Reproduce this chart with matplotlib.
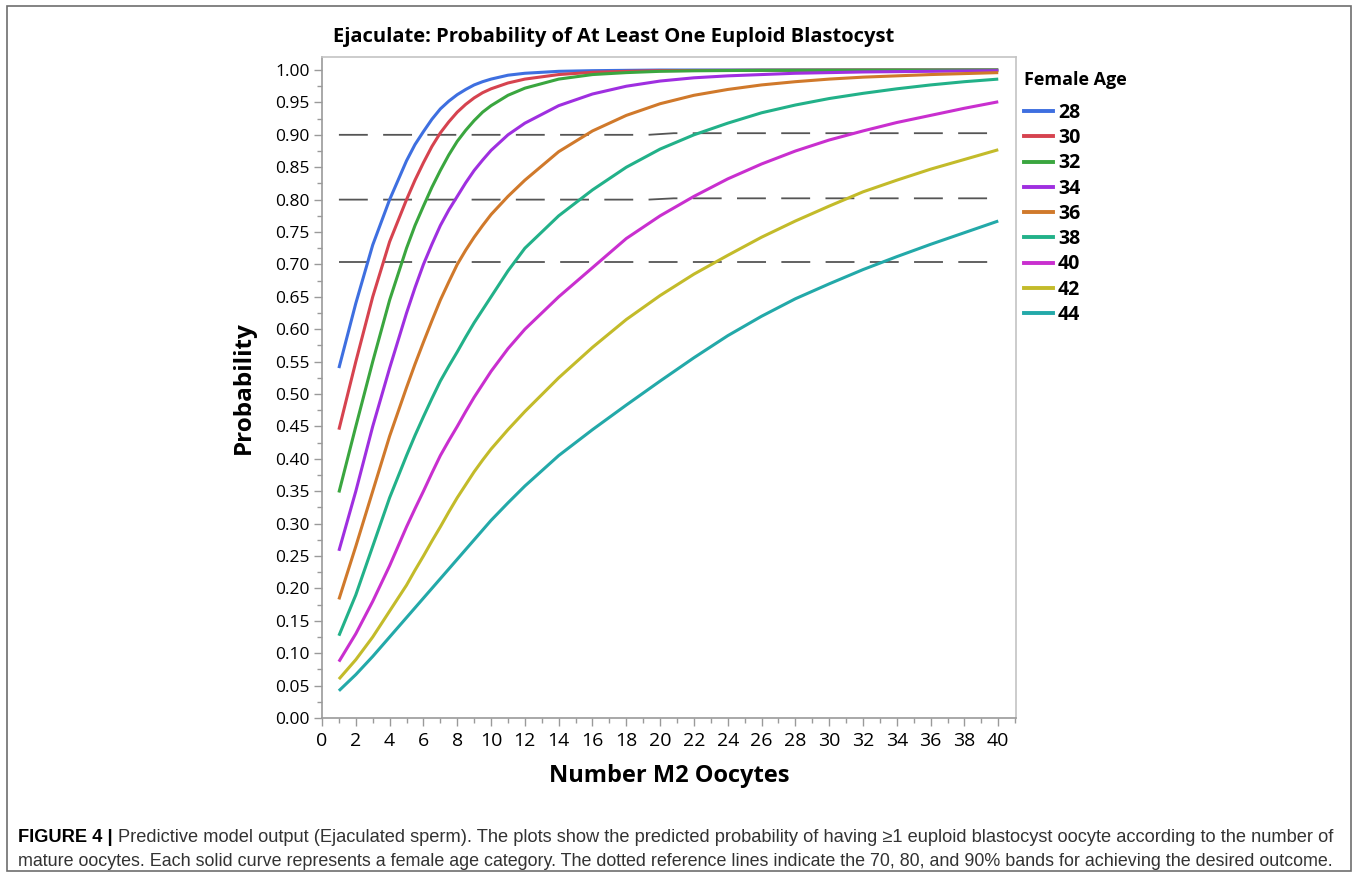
import matplotlib
matplotlib.use("Agg")
import matplotlib.pyplot as plt
from matplotlib.lines import Line2D
from matplotlib.patches import Rectangle
from matplotlib.ticker import MultipleLocator, FormatStrFormatter
from matplotlib import font_manager

# values
oocytes = [1, 2, 3, 4, 5, 5.5, 6, 6.5, 7, 7.5, 8, 8.5, 9, 9.5, 10, 11, 12, 14, 16, 18, 20,
           22, 24, 26, 28, 30, 32, 34, 36, 38, 40]

age_28 = [.540, .640, .730, .800, .860, .885, .905, .924, .940, .952, .962, .970, .977, .982, .986,
          .992, .995, .998, .999, .9995, 1.0,
          1.0, 1.0, 1.0, 1.0, 1.0, 1.0, 1.0, 1.0, 1.0, 1.0]
age_30 = [.445, .550, .650, .735, .800, .830, .857, .882, .903, .920, .935, .947, .957, .965, .971,
          .980, .986, .993, .9965, .998, .999,
          .9993, .9995, .9997, .9998, .9999, 1.0, 1.0, 1.0, 1.0, 1.0]
age_32 = [.348, .450, .550, .645, .725, .760, .790, .819, .845, .869, .890, .907, .922, .935, .945,
          .961, .972, .986, .993, .996, .998,
          .9988, .9992, .9995, .9996, .9997, .9998, .9999, .9999, 1.0, 1.0]
age_34 = [.258, .350, .450, .540, .625, .664, .700, .731, .760, .784, .805, .826, .845, .861, .876,
          .900, .918, .945, .963, .975, .983,
          .988, .991, .993, .995, .996, .997, .9975, .998, .9985, .999]
age_36 = [.183, .265, .350, .435, .510, .546, .580, .613, .645, .673, .700, .722, .742, .760, .777,
          .805, .830, .874, .906, .930, .948,
          .961, .970, .977, .982, .986, .989, .991, .993, .9945, .996]
age_38 = [.127, .190, .265, .340, .405, .436, .465, .493, .520, .543, .565, .588, .610, .630, .650,
          .690, .725, .775, .815, .850, .878,
          .900, .918, .934, .946, .956, .964, .971, .977, .982, .986]
age_40 = [.087, .130, .180, .235, .295, .323, .350, .378, .405, .428, .450, .473, .495, .515, .535,
          .570, .600, .650, .695, .740, .775,
          .805, .832, .855, .875, .892, .906, .919, .930, .941, .951]
age_42 = [.060, .090, .125, .165, .205, .228, .250, .273, .295, .318, .340, .360, .380, .398, .415,
          .445, .473, .525, .572, .615, .652,
          .685, .714, .742, .767, .790, .812, .830, .847, .862, .877]
age_44 = [.042, .067, .095, .125, .155, .170, .185, .200, .215, .230, .245, .260, .275, .290, .305,
          .332, .358, .405, .445, .483, .520,
          .556, .590, .620, .647, .670, .692, .712, .731, .749, .767]

ages = ["28", "30", "32", "34", "36", "38", "40", "42", "44"]
series = [age_28, age_30, age_32, age_34, age_36, age_38, age_40, age_42, age_44]
colors = ["#3e6fe0", "#d6434f", "#3aa63f", "#9f2fe0", "#d0792b",
          "#22b189", "#c92fcf", "#c3bb2a", "#23a9a9"]

# dotted reference bands (70, 80, 90 %)
ref_x = [1, 19.3, 20.8, 40]
ref_90 = [.900, .900, .9025, .9025]
ref_80 = [.800, .800, .802, .802]
ref_70 = [.704, .704, .704, .704]

W, H = 1358, 877
names = {f.name for f in font_manager.fontManager.ttflist}
chart_font = "Open Sans" if "Open Sans" in names else "DejaVu Sans"
cap_font = "Liberation Sans Narrow" if "Liberation Sans Narrow" in names else "Liberation Sans"
plt.rcParams["font.family"] = [chart_font, "DejaVu Sans"]

fig = plt.figure(figsize=(W / 100, H / 100), dpi=100)
ax = fig.add_axes([322 / W, 1 - 718 / H, (1016 - 322) / W, (718 - 57) / H])

for yy in (ref_90, ref_80, ref_70):
    ax.plot(ref_x, yy, color="#555555", lw=1.3, dashes=(16, 8.5), zorder=1)

handles = []
for ser, col in zip(series, colors):
    ax.plot(oocytes, ser, color=col, lw=2.2, solid_capstyle="butt",
            solid_joinstyle="round", zorder=2)
    handles.append(Line2D([], [], color=col, lw=2.8))

ax.set_xlim(0, 41.05)
ax.set_ylim(0, 1.0201)
ax.xaxis.set_major_locator(MultipleLocator(2))
ax.xaxis.set_minor_locator(MultipleLocator(1))
ax.yaxis.set_major_locator(MultipleLocator(0.05))
ax.yaxis.set_minor_locator(MultipleLocator(0.025))
ax.yaxis.set_major_formatter(FormatStrFormatter("%.2f"))
ax.tick_params(which="major", direction="out", length=6, width=1, color="#9a9a9a", labelcolor="black")
ax.tick_params(which="minor", direction="out", length=3.5, width=1, color="#9a9a9a")
ax.tick_params(axis="x", labelsize=14, pad=4)
ax.tick_params(axis="y", labelsize=12.5, pad=3)
for s in ("left", "bottom"):
    ax.spines[s].set_color("#9a9a9a")
for s in ("top", "right"):
    ax.spines[s].set_color("#c4c4c4")
for s in ax.spines.values():
    s.set_linewidth(1.2)

ax.set_xlabel("Number M2 Oocytes", fontsize=17, fontweight="bold", labelpad=10)
ax.set_ylabel("Probability", fontsize=17.5, fontweight="bold", labelpad=14)

fig.text(333 / W, 1 - 37 / H, "Ejaculate: Probability of At Least One Euploid Blastocyst",
         fontsize=14.5, fontweight="bold", ha="left", va="center")

leg = ax.legend(handles, ages, title="Female Age", loc="upper left",
                bbox_to_anchor=(1024 / W, 1 - 71 / H), bbox_transform=fig.transFigure,
                frameon=False, prop={"weight": "bold", "size": 14},
                title_fontproperties={"weight": "bold", "size": 13},
                handlelength=1.5, handletextpad=0.25, labelspacing=0.27,
                borderpad=0, borderaxespad=0)
leg._legend_box.align = "left"
leg._legend_box.sep = 10  # extra room between the title and the first entry

# outer frame
fig.add_artist(Rectangle((7 / W, 6 / H), 1344 / W, 865 / H, transform=fig.transFigure,
                         fill=False, edgecolor="#6e6e6e", lw=1.2))

# caption, each line stretched to the frame width like the reference
line1 = ("Predictive model output (Ejaculated sperm). The plots show the predicted probability of having "
         "\u22651 euploid blastocyst oocyte according to the number of")
line2 = ("mature oocytes. Each solid curve represents a female age category. The dotted reference lines "
         "indicate the 70, 80, and 90% bands for achieving the desired outcome.")
fig.canvas.draw()
r = fig.canvas.get_renderer()

size1 = 12.5
t0 = fig.text(18 / W, 1 - 837 / H, "FIGURE 4 | ", family=cap_font, fontsize=size1,
              fontweight="bold", ha="left", va="center", color="black")
t1 = fig.text(t0.get_window_extent(r).x1 / W, 1 - 837 / H, line1, family=cap_font,
              fontsize=size1, ha="left", va="center", color="#333333")
size1 *= (1338 - 18) / (t1.get_window_extent(r).x1 - 18)
t0.set_fontsize(size1)
t1.set_fontsize(size1)
t1.set_x(t0.get_window_extent(r).x1 / W)

t2 = fig.text(18 / W, 1 - 862 / H, line2, family=cap_font, fontsize=12.5,
              ha="left", va="center", color="#333333")
t2.set_fontsize(12.5 * (1338 - 18) / t2.get_window_extent(r).width)

fig.savefig("out.png", dpi=100)
